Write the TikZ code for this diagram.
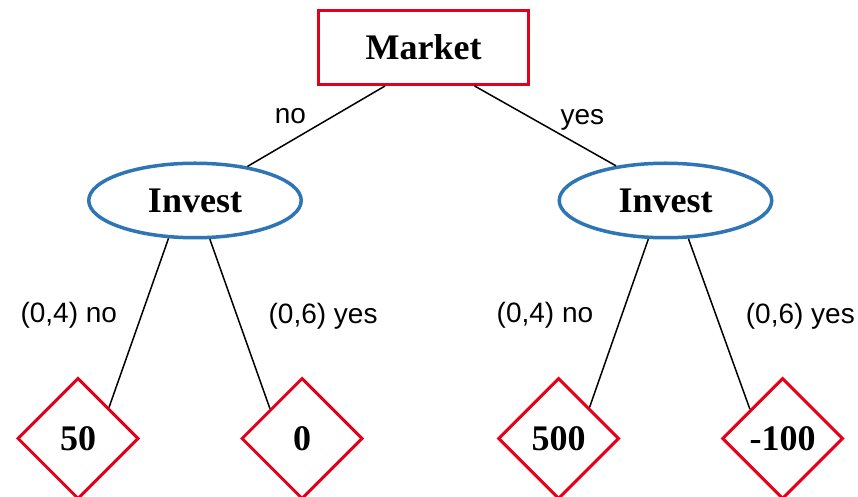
\documentclass[tikz,border=0pt]{standalone}
\usepackage{fontspec}
\setmainfont{Liberation Serif}
\setsansfont{Liberation Sans}
\usepackage{tikz}
\usetikzlibrary{shapes.geometric,positioning}
\usepackage{xcolor}
\definecolor{marketred}{RGB}{226,0,26}
\definecolor{investblue}{RGB}{46,117,182}

\begin{document}
\begin{tikzpicture}[
        x=1pt, y=1pt,
        market/.style={
            rectangle,
            minimum width=210pt,
            minimum height=74pt,
            draw=marketred,
            line width=3pt,
            fill=white,
            font=\fontsize{36}{40}\selectfont\bfseries,
            align=center
        },
        invest/.style={
            ellipse,
            minimum width=212.5pt,
            minimum height=74.5pt,
            inner sep=0pt,
            draw=investblue,
            line width=3.5pt,
            fill=white,
            font=\fontsize{36}{40}\selectfont\bfseries
        },
        payoff/.style={
            diamond,
            aspect=1,
            minimum width=121pt,
            minimum height=121pt,
            inner sep=0pt,
            draw=marketred,
            line width=3pt,
            fill=white,
            font=\fontsize{36}{40}\selectfont\bfseries
        },
        branch/.style={
            draw=black,
            line width=1.5pt
        },
        lbl/.style={
            inner sep=0pt,
            font=\fontsize{28}{32}\selectfont\sffamily
        }
    ]
    \useasboundingbox (0,0) rectangle (858,497);

    % Market at the top
    \node[market] (market) at (423.5,449.5) {Market};

    % Invest decisions below Market
    \node[invest, below=75.5pt of market, xshift=-228.5pt] (investL) {Invest};
    \node[invest, below=75.5pt of market, xshift=242pt] (investR) {Invest};

    % Payoffs at the bottom
    \node[payoff, below=137pt of investL, xshift=-117pt] (p50) {50};
    \node[payoff, below=137pt of investL, xshift=107pt] (p0) {0};
    \node[payoff, below=137pt of investR, xshift=-107pt] (p500) {500};
    \node[payoff, below=137pt of investR, xshift=117pt] (pneg) {-100};

    % Branches with labels
    \draw[branch] (market.225) -- node[lbl, anchor=base east, xshift=-9.5pt, yshift=2.5pt] (lmno) {no} (investL.33);
    \draw[branch] (market.323) -- node[lbl, anchor=base west, xshift=14.5pt, yshift=1.5pt] (lmyes) {yes} (investR.145);
    \draw[branch] (investL.235) -- node[lbl, anchor=base east, xshift=-21pt, yshift=0.5pt] (llno) {(0,4) no} (p50.45);
    \draw[branch] (investL.291) -- node[lbl, anchor=base west, xshift=28pt, yshift=0.5pt] (llyes) {(0,6) yes} (p0.137);
    \draw[branch] (investR.246) -- node[lbl, anchor=base east, xshift=-25pt, yshift=0.5pt] (lrno) {(0,4) no} (p500.45);
    \draw[branch] (investR.301) -- node[lbl, anchor=base west, xshift=26pt, yshift=0.5pt] (lryes) {(0,6) yes} (pneg.138);

    \end{tikzpicture}
\end{document}
